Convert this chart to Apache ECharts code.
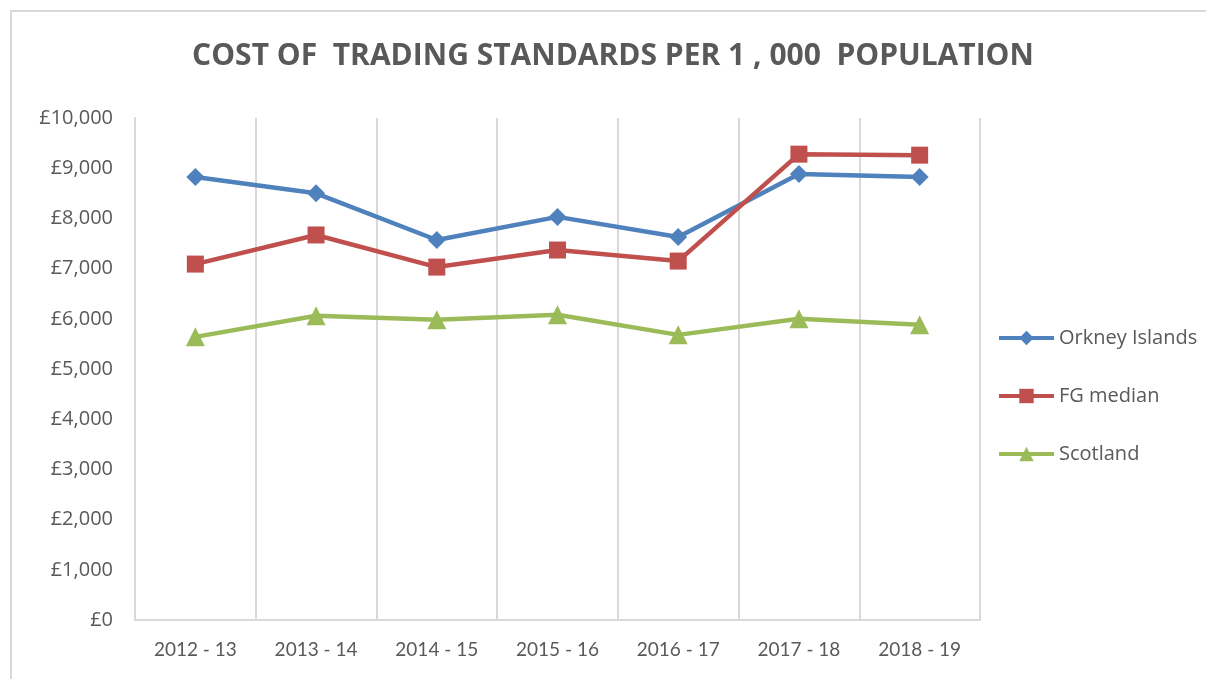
<!DOCTYPE html>
<html>
<head>
<meta charset="utf-8">
<script src="https://cdn.jsdelivr.net/npm/echarts@6/dist/echarts.min.js"></script>
<style>
  html, body { margin: 0; padding: 0; background: #fff; }
  #frame { position: absolute; left: 10px; top: 10px; right: 0; bottom: 0; border-left: 2px solid #d9d9d9; border-top: 2px solid #d9d9d9; }
  #chart { position: absolute; left: 0; top: 0; width: 1206px; height: 679px; }
</style>
</head>
<body>
<div id="frame"></div>
<div id="chart"></div>
<script>
// Cost of trading standards per 1,000 population (£)
const years = ['2012 - 13', '2013 - 14', '2014 - 15', '2015 - 16', '2016 - 17', '2017 - 18', '2018 - 19'];
const orkney = [8825, 8500, 7570, 8030, 7630, 8885, 8825];
const fgMedian = [7090, 7670, 7030, 7370, 7150, 9280, 9260];
const scotland = [5640, 6060, 5980, 6080, 5680, 6000, 5880];

const axisGrey = '#d9d9d9';
const textGrey = '#595959';

function lineSeries(name, data, color, symbol, size) {
  return {
    name: name,
    type: 'line',
    data: data,
    symbol: symbol,
    symbolSize: size,
    lineStyle: { color: color, width: 4.5 },
    itemStyle: { color: color },
    emphasis: { disabled: true }
  };
}

const chart = echarts.init(document.getElementById('chart'), null, { renderer: 'canvas' });
chart.setOption({
  animation: false,
  title: {
    text: 'COST OF  TRADING STANDARDS PER 1 , 000  POPULATION',
    left: 608,
    textAlign: 'center',
    top: 36,
    textStyle: {
      fontFamily: 'Open Sans',
      fontWeight: 'bold',
      fontSize: 30,
      color: textGrey
    }
  },
  legend: {
    orient: 'vertical',
    left: 992,
    top: 323,
    itemGap: 38,
    itemWidth: 55,
    itemHeight: 18,
    lineStyle: { width: 4 },
    textStyle: { fontFamily: 'Open Sans', fontSize: 20, color: textGrey },
    data: ['Orkney Islands', 'FG median', 'Scotland']
  },
  grid: { left: 135, right: 226, top: 118, bottom: 59, containLabel: false },
  xAxis: {
    type: 'category',
    data: years,
    boundaryGap: true,
    axisLine: { lineStyle: { color: axisGrey, width: 2 } },
    axisTick: { show: false },
    axisLabel: { margin: 20, fontFamily: 'Lato', fontSize: 19, color: textGrey },
    splitLine: { show: true, lineStyle: { color: axisGrey, width: 2 } }
  },
  yAxis: {
    type: 'value',
    min: 0,
    max: 10000,
    interval: 1000,
    axisLine: { show: true, lineStyle: { color: axisGrey, width: 2 } },
    axisTick: { show: false },
    splitLine: { show: false },
    axisLabel: {
      margin: 22,
      fontFamily: 'Open Sans',
      fontSize: 20,
      color: textGrey,
      formatter: v => '£' + v.toLocaleString('en-GB')
    }
  },
  series: [
    lineSeries('Orkney Islands', orkney, '#4f81bd', 'diamond', 18),
    lineSeries('FG median', fgMedian, '#c0504d', 'rect', 17),
    lineSeries('Scotland', scotland, '#9bbb59', 'triangle', 19)
  ]
});
</script>
</body>
</html>
